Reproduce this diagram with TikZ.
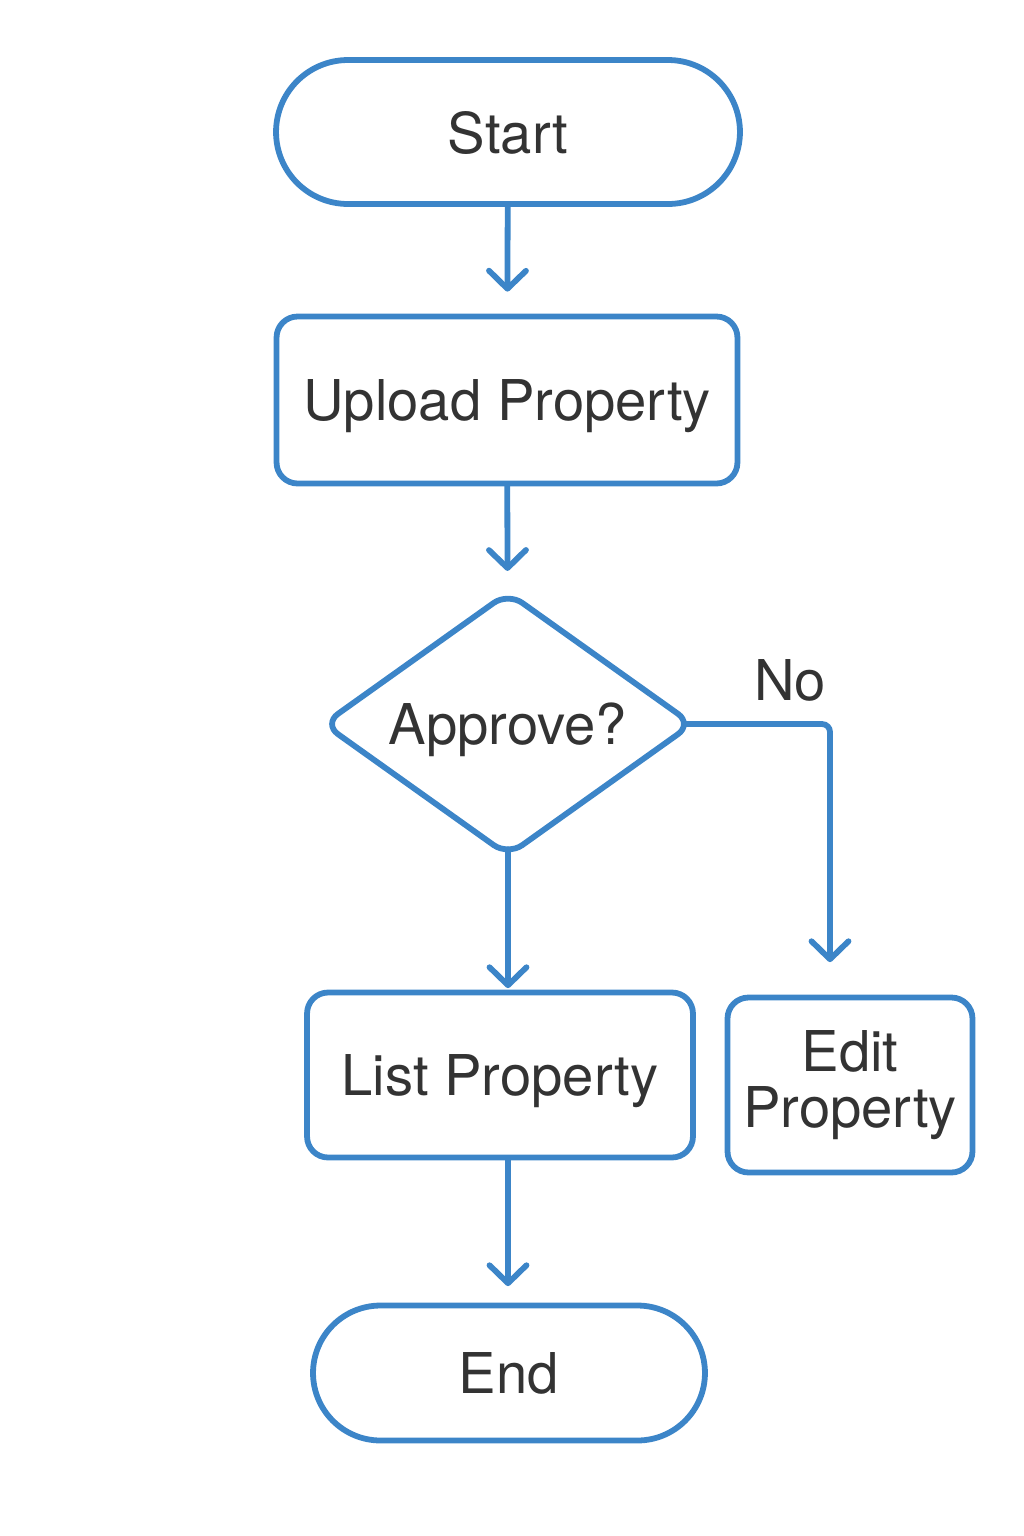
\documentclass[tikz,border=0pt]{standalone}
\usepackage{fontspec}
\setmainfont{TeX Gyre Heros}
\usetikzlibrary{arrows.meta,shapes.geometric}
\definecolor{flowblue}{HTML}{3C85C8}
\definecolor{flowtext}{HTML}{333333}
\tikzset{
  base/.style={draw=flowblue,line width=3.3pt,text=flowtext,font=\fontsize{32}{34}\selectfont,align=center,inner sep=0pt},
  oneline/.style={text depth=0pt},
  terminal/.style={base,oneline,rectangle,rounded corners=#1},
  procbox/.style={base,rectangle,rounded corners=.42cm},
  decision/.style={base,oneline,diamond,aspect=1.4,rounded corners=.35cm},
  flow/.style={draw=flowblue,line width=3.3pt,line cap=round,
    -{Straight Barb[length=.36cm,width=.74cm,line width=3.3pt,round]}},
}
\begin{document}
\begin{tikzpicture}[x=.02cm,y=-.02cm]
  \useasboundingbox (0,0) rectangle (1024,1536);
  \node[terminal=1.44cm,minimum width=9.28cm,minimum height=2.88cm] (start) at (508,132) {Start};
  \node[procbox,oneline,minimum width=9.22cm,minimum height=3.34cm] (upload) at (507,400) {Upload Property};
  \node[decision,minimum width=7.42cm,minimum height=5.3cm] (approve) at (508,724) {Approve?};
  \node[procbox,oneline,minimum width=7.72cm,minimum height=3.3cm] (list) at (500,1075) {List Property};
  \node[procbox,minimum width=4.9cm,minimum height=3.5cm] (edit) at (850,1085) {Edit\\[-2pt]Property};
  \node[text=flowtext,font=\fontsize{32}{34}\selectfont,oneline] (no) at (790,680) {No};
  \node[terminal=1.35cm,minimum width=7.84cm,minimum height=2.7cm] (end) at (509,1373) {End};
  % connectors
  \draw[flow,shorten >=.44cm] (start) -- (upload);
  \draw[flow,shorten >=.36cm] (upload) -- (approve);
  \draw[flow,shorten >=.03cm] ([yshift=.2cm]approve.south) -- (approve.south |- list.north);
  \draw[flow,shorten >=.65cm,rounded corners=.16cm] ([xshift=-.2cm]approve.east) -| ([xshift=-.4cm]edit.north);
  \draw[flow,shorten >=.33cm] (list.south -| approve.south) -- (end.north -| approve.south);
\end{tikzpicture}
\end{document}
